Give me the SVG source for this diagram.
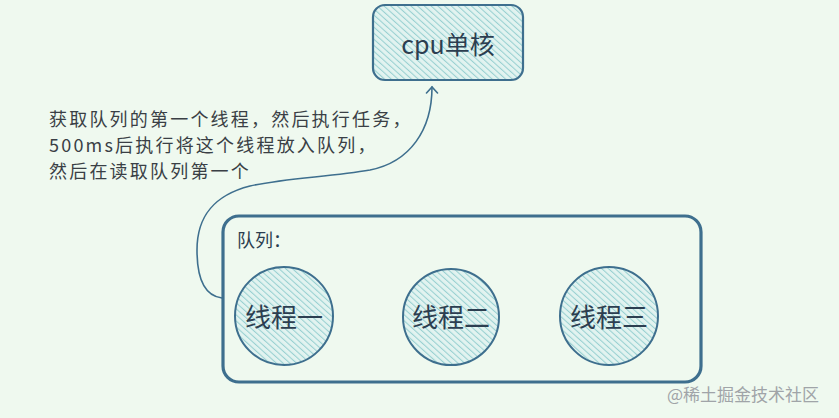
<svg xmlns="http://www.w3.org/2000/svg" width="839" height="418" viewBox="0 0 839 418">
<style>
.edge{fill:none;stroke:#3e6f8e;stroke-width:1.6;stroke-linecap:round;stroke-linejoin:round}
.border{stroke:#3e6f8e;stroke-linecap:round;stroke-linejoin:round}
.t{font-family:"Noto Sans CJK SC","Noto Sans",sans-serif;fill:#2c3e50}
.note{font-family:"Noto Sans CJK SC","Noto Sans",sans-serif;fill:#3a3f45;font-size:18px;letter-spacing:2.2px}
</style>
<defs>
<pattern id="hatch" patternUnits="userSpaceOnUse" width="4.5" height="4.5" patternTransform="rotate(-48)">
<rect width="4.5" height="4.5" fill="#e2f3f0"/>
<line x1="0" y1="0" x2="0" y2="4.5" stroke="#98d0d1" stroke-width="2.1"/>
</pattern>
<marker id="arr" markerWidth="14" markerHeight="14" refX="7" refY="7" orient="auto" markerUnits="userSpaceOnUse">
<path d="M1,1.5 L7,7 L1,12.5" fill="none" stroke="#3e6f8e" stroke-width="1.6" stroke-linecap="round"/>
</marker>
</defs>
<rect width="839" height="418" fill="#eff9ef"/>
<g id="cpu">
<rect x="373" y="5" width="150" height="75" rx="12" fill="url(#hatch)" class="border" stroke-width="2.2"/>
<text x="448" y="54" class="t" font-size="25" text-anchor="middle">cpu单核</text>
</g>
<g id="queue">
<rect x="223" y="216" width="478" height="166" rx="16" fill="none" class="border" stroke-width="3.2"/>
<text x="237" y="247" class="t" font-size="18" fill="#3a3f45">队列：</text>
</g>
<g id="thread1">
<circle cx="284" cy="316" r="49" fill="url(#hatch)" class="border" stroke-width="2"/>
<text x="284" y="327" class="t" font-size="26" text-anchor="middle">线程一</text>
</g>
<g id="thread2">
<circle cx="451" cy="317" r="48" fill="url(#hatch)" class="border" stroke-width="2"/>
<text x="451" y="327" class="t" font-size="26" text-anchor="middle">线程二</text>
</g>
<g id="thread3">
<circle cx="609" cy="316" r="49" fill="url(#hatch)" class="border" stroke-width="2"/>
<text x="609" y="327" class="t" font-size="26" text-anchor="middle">线程三</text>
</g>
<g id="connectors">
<path class="edge" d="M222,298 C205,296 197,280 197,250 C197,215 215,195 250,186 C285,178 330,177 370,170 C410,162 432,130 432,87" marker-end="url(#arr)"/>
</g>
<g id="note">
<text x="49" y="125.5" class="note">获取队列的第一个线程，然后执行任务，</text>
<text x="49" y="151.6" class="note">500ms后执行将这个线程放入队列，</text>
<text x="49" y="177.7" class="note">然后在读取队列第一个</text>
</g>
<text x="667" y="401" font-family="Noto Sans CJK SC,Noto Sans,sans-serif" font-size="17" fill="#a0a4a8">@稀土掘金技术社区</text>
</svg>
